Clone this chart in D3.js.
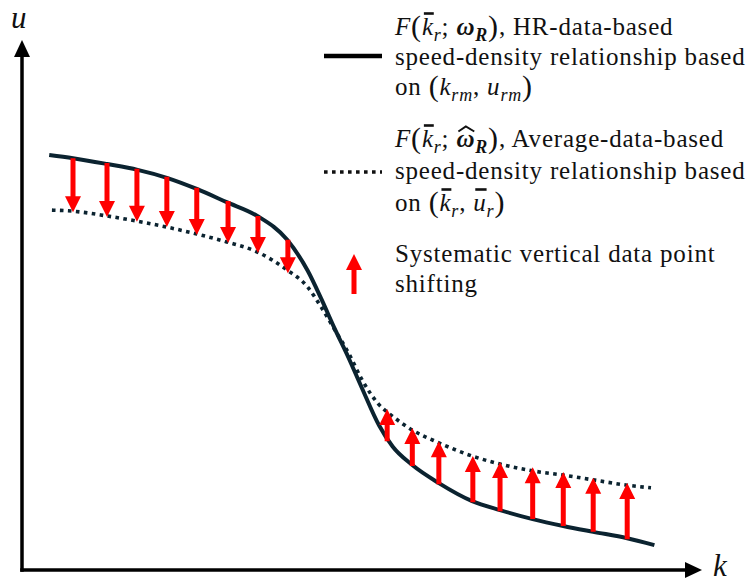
<!DOCTYPE html>
<html>
<head>
<meta charset="utf-8">
<script src="https://cdn.jsdelivr.net/npm/d3@7"></script>
<style>
  html, body { margin: 0; padding: 0; background: #fff; }
  svg { display: block; }
  text { font-family: "Liberation Serif", "DejaVu Serif", serif; fill: #111; }
</style>
</head>
<body>
<svg id="chart" width="755" height="582"></svg>
<script>
// Speed–density relationships (schematic units: density k and speed u on 0–100)
const kSolid = [4, 7.5, 12.5, 17, 21.3, 25.7, 30.1, 34.6, 39, 42, 44, 46, 48, 50, 52.5, 54.5, 57.4, 61.3, 66.2, 70.3, 75.1, 79.6, 84, 89, 93];
const uSolid = [78.3, 77.7, 76.6, 75.5, 74.0, 71.9, 69.4, 66.8, 62.3, 56.5, 51.2, 45.5, 40.1, 34.3, 27.3, 23.3, 19.8, 16.4, 13.0, 11.3, 9.6, 8.3, 7.2, 6.0, 4.7];

const kDotted = [4.4, 7.5, 12.5, 17, 21.3, 25.7, 30.1, 34.6, 39, 42, 44, 46, 48, 50, 52.5, 54.5, 57.4, 61.3, 66.2, 70.3, 75.1, 79.6, 84, 89, 92.5];
const uDotted = [67.9, 67.7, 66.8, 65.8, 64.7, 63.4, 61.9, 60.0, 56.6, 53.4, 49.6, 45.3, 41.0, 35.9, 31.2, 29.0, 26.4, 24.0, 21.5, 20.0, 18.7, 17.9, 17.0, 16.0, 15.5];

// Downward shifts (free-flow side) and upward shifts (congested side)
const downK    = [7.5, 12.5, 16.9, 21.3, 25.7, 30.3, 34.7, 39.1];
const downFrom = [77.7, 76.8, 75.7, 74.2, 72.1, 69.6, 66.8, 62.3];
const downTo   = [67.5, 66.6, 65.7, 64.7, 63.2, 61.7, 59.8, 56.0];

const upK    = [53.7, 57.4, 61.3, 66.3, 70.3, 75.1, 79.6, 84.0, 89.0];
const upFrom = [24.3, 19.6, 16.2, 12.8, 11.1, 9.6, 8.3, 7.2, 5.8];
const upTo   = [30.4, 26.8, 24.3, 21.5, 20.4, 19.4, 18.5, 17.4, 16.4];

const axisTitles = { x: "k", y: "u" };

// Legend labels: rich segments (i = italic, b = bold, sub = subscript, bar = overbar, hat = circumflex, p = parenthesis)
const legendSolid = [
  [{t:"F", i:1}, {t:"(", p:1}, {t:"k", i:1, bar:1}, {t:"r", i:1, sub:1}, {t:"; "}, {t:"ω", i:1, b:1}, {t:"R", i:1, b:1, sub:1}, {t:")", p:1}, {t:", HR-data-based"}],
  [{t:"speed-density relationship based"}],
  [{t:"on "}, {t:"(", p:1}, {t:"k", i:1}, {t:"rm", i:1, sub:1}, {t:", "}, {t:"u", i:1}, {t:"rm", i:1, sub:1}, {t:")", p:1}]
];
const legendDotted = [
  [{t:"F", i:1}, {t:"(", p:1}, {t:"k", i:1, bar:1}, {t:"r", i:1, sub:1}, {t:"; "}, {t:"ω", i:1, b:1, hat:1}, {t:"R", i:1, b:1, sub:1}, {t:")", p:1}, {t:", Average-data-based"}],
  [{t:"speed-density relationship based"}],
  [{t:"on "}, {t:"(", p:1}, {t:"k", i:1, bar:1}, {t:"r", i:1, sub:1}, {t:", "}, {t:"u", i:1, bar:1}, {t:"r", i:1, sub:1}, {t:")", p:1}]
];
const legendArrow = [
  [{t:"Systematic vertical data point"}],
  [{t:"shifting"}]
];

const curveColor = "#0b2330";
const arrowColor = "#ff0000";

const svg = d3.select("#chart");
const x = d3.scaleLinear().domain([0, 100]).range([22, 702]);
const y = d3.scaleLinear().domain([0, 100]).range([570, 40]);

// ---- axes with arrowheads ----
const axW = 3.5, headL = 17, headW = 16;
const axes = svg.append("g");
axes.append("line")
  .attr("x1", x(0) - axW / 2).attr("y1", y(0))
  .attr("x2", x(100) - headL + 1).attr("y2", y(0))
  .attr("stroke", "#000").attr("stroke-width", axW);
axes.append("path")
  .attr("d", `M${x(100)},${y(0)} L${x(100) - headL},${y(0) - headW / 2} L${x(100) - headL},${y(0) + headW / 2} Z`)
  .attr("fill", "#000");
axes.append("line")
  .attr("x1", x(0)).attr("y1", y(0) + axW / 2)
  .attr("x2", x(0)).attr("y2", y(100) + headL - 1)
  .attr("stroke", "#000").attr("stroke-width", axW);
axes.append("path")
  .attr("d", `M${x(0)},${y(100)} L${x(0) - headW / 2},${y(100) + headL} L${x(0) + headW / 2},${y(100) + headL} Z`)
  .attr("fill", "#000");

svg.append("text").attr("x", x(100) + 11).attr("y", y(0) + 6)
  .attr("font-size", 31).attr("font-style", "italic").text(axisTitles.x);
svg.append("text").attr("x", x(0) - 11).attr("y", y(100) - 12)
  .attr("font-size", 31).attr("font-style", "italic").text(axisTitles.y);

// ---- curves ----
const line = d3.line().x(d => x(d[0])).y(d => y(d[1])).curve(d3.curveMonotoneX);
svg.append("path")
  .datum(d3.zip(kDotted, uDotted))
  .attr("d", line)
  .attr("fill", "none").attr("stroke", curveColor)
  .attr("stroke-width", 3.6).attr("stroke-dasharray", "3.6,4.4");
svg.append("path")
  .datum(d3.zip(kSolid, uSolid))
  .attr("d", line)
  .attr("fill", "none").attr("stroke", curveColor)
  .attr("stroke-width", 4);

// ---- arrows ----
function arrowPath(cx, yBase, yTip, shaftW = 5, hw = 16, hl = 16) {
  const dir = Math.sign(yTip - yBase);
  const yNeck = yTip - dir * hl;
  return `M${cx - shaftW / 2},${yBase} L${cx - shaftW / 2},${yNeck} L${cx - hw / 2},${yNeck} ` +
         `L${cx},${yTip} L${cx + hw / 2},${yNeck} L${cx + shaftW / 2},${yNeck} L${cx + shaftW / 2},${yBase} Z`;
}
const arrows = svg.append("g").attr("fill", arrowColor);
arrows.selectAll("path.down")
  .data(d3.zip(downK, downFrom, downTo)).join("path").attr("class", "down")
  .attr("d", d => arrowPath(x(d[0]), y(d[1]), y(d[2])));
arrows.selectAll("path.up")
  .data(d3.zip(upK, upFrom, upTo)).join("path").attr("class", "up")
  .attr("d", d => arrowPath(x(d[0]), y(d[1]), y(d[2])));

// ---- legend ----
const FS = 25;
function richLine(g, tx, ty, segs) {
  const text = g.append("text").attr("x", tx).attr("y", ty)
    .attr("font-size", FS).attr("letter-spacing", 0.8);
  let shift = 0, idx = 0;
  const marks = [];
  segs.forEach(s => {
    const ts = text.append("tspan").text(s.t);
    if (s.i) ts.attr("font-style", "italic");
    if (s.b) ts.attr("font-weight", "bold");
    let target = 0, size = FS;
    if (s.sub) { size = FS * 0.72; target = FS * 0.22; }
    if (s.p) { size = FS * 1.2; target = FS * 0.05; }
    ts.attr("font-size", size);
    if (target !== shift) { ts.attr("dy", target - shift); shift = target; }
    if (s.bar || s.hat) marks.push({ s, start: idx, end: idx + s.t.length - 1 });
    idx += s.t.length;
  });
  const node = text.node();
  marks.forEach(m => {
    const a = node.getExtentOfChar(m.start), b = node.getExtentOfChar(m.end);
    const x0 = a.x, x1 = b.x + b.width;
    if (m.s.bar) {
      g.append("line").attr("x1", x0 + 2).attr("x2", x1)
        .attr("y1", ty - FS * 0.86).attr("y2", ty - FS * 0.86)
        .attr("stroke", "#111").attr("stroke-width", 2.6);
    } else {
      const top = ty - FS * 0.82, mid = (x0 + x1) / 2;
      g.append("path")
        .attr("d", `M${x0 + 2},${top + 5} L${mid},${top} L${x1 - 1},${top + 5}`)
        .attr("fill", "none").attr("stroke", "#111").attr("stroke-width", 2);
    }
  });
  return text;
}
function block(g, tx, ty0, lines, dy) {
  lines.forEach((segs, i) => richLine(g, tx, ty0 + i * dy, segs));
}

const leg = svg.append("g");
const textX = 395;

leg.append("line").attr("x1", 324).attr("x2", 382).attr("y1", 56).attr("y2", 56)
  .attr("stroke", "#000").attr("stroke-width", 4.5);
block(leg, textX, 35, legendSolid, 30);

leg.append("line").attr("x1", 324).attr("x2", 382).attr("y1", 172).attr("y2", 172)
  .attr("stroke", "#111").attr("stroke-width", 3.6).attr("stroke-dasharray", "3.6,4.4");
block(leg, textX, 147, legendDotted, 32);

leg.append("path").attr("d", arrowPath(354, 294, 254)).attr("fill", arrowColor);
block(leg, textX, 262, legendArrow, 30);
</script>
</body>
</html>
